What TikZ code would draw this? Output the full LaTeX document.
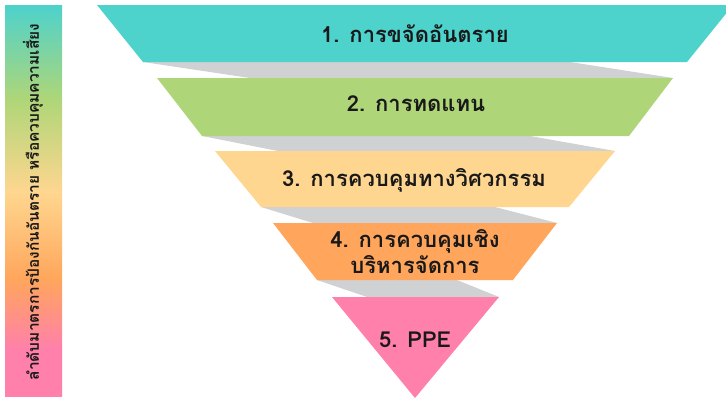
\documentclass[tikz,border=0pt]{standalone}
\usepackage{fontspec}
\usepackage{tikz}
\usetikzlibrary{positioning}
\newfontfamily\thaifont[Script=Thai]{Loma}

\definecolor{barteal}{RGB}{77,210,204}
\definecolor{bargreen}{RGB}{174,214,120}
\definecolor{baryellow}{RGB}{255,214,143}
\definecolor{barorange}{RGB}{255,166,92}
\definecolor{barpink}{RGB}{255,128,170}
\definecolor{shadowgrey}{RGB}{208,209,211}
\pgfdeclareverticalshading{barshade}{100bp}{color(0bp)=(barpink); color(31bp)=(barpink); color(40bp)=(barorange); color(51bp)=(baryellow); color(63bp)=(bargreen); color(75bp)=(barteal); color(100bp)=(barteal)}

\tikzset{
    funnelshadow/.style={fill=shadowgrey},
    funneltext/.style={font=\thaifont\bfseries\fontsize{22}{26}\selectfont, text=black!90, align=center},
}

\begin{document}
\begin{tikzpicture}[x=1pt, y=-1pt]
    \clip (0,0) rectangle (726,400);

    \fill[shading=barshade] (5,5) rectangle (62,396);
    \node[rotate=90, font=\thaifont\bfseries\fontsize{15.5}{18}\selectfont, text=black!90] (bartext) at (33,202) {ลำดับมาตรการป้องกันอันตราย หรือควบคุมความเสี่ยง};

    \fill[funnelshadow] (143,62) -- (570,62) -- (673,78) -- (250,78) -- cycle;
    \fill[funnelshadow] (202,136) -- (530,136) -- (615,151) -- (278,151) -- cycle;
    \fill[funnelshadow] (261,207) -- (495,207) -- (557,223) -- (313,223) -- cycle;
    \fill[funnelshadow] (317,280) -- (457,280) -- (499,297) -- (367,297) -- cycle;

    \fill[barteal] (97,5) -- (733,5) -- (687,62) -- (143,62) -- cycle;
    \fill[bargreen] (157,78) -- (673,78) -- (629,136) -- (202,136) -- cycle;
    \fill[baryellow] (215,151) -- (615,151) -- (569,207) -- (261,207) -- cycle;
    \fill[barorange] (273,223) -- (557,223) -- (513,280) -- (317,280) -- cycle;
    \fill[barpink] (332,297) -- (499,297) -- (415,398) -- cycle;

    \node[funneltext] (l1) at (415,34) {1. การขจัดอันตราย};
    \node[funneltext] (l2) at (416,104) {2. การทดแทน};
    \node[funneltext] (l3) at (414,180) {3. การควบคุมทางวิศวกรรม};
    \node[funneltext] (l4) at (415,252) {4. การควบคุมเชิง\\บริหารจัดการ};
    \node[funneltext] (l5) at (415,340) {5. PPE};
\end{tikzpicture}
\end{document}
